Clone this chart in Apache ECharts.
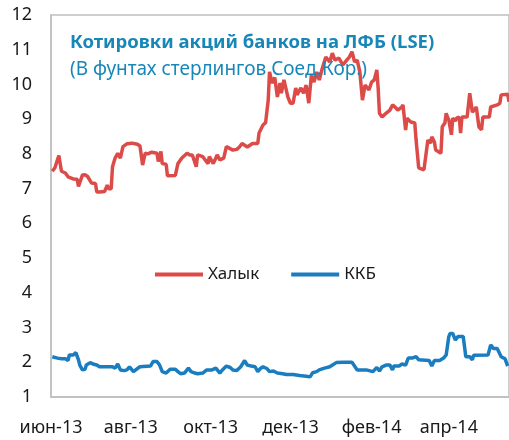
<!DOCTYPE html>
<html>
<head>
<meta charset="utf-8"/>
<title>Котировки акций банков на ЛФБ</title>
<script src="https://cdn.jsdelivr.net/npm/echarts@6/dist/echarts.min.js"></script>
<style>
  html, body { margin: 0; padding: 0; background: #fff; }
  #main { width: 509px; height: 440px; }
</style>
</head>
<body>
<div id="main"></div>
<script type="text/javascript">
// Халык, GBP
var halykDates = ['2013-06-02','2013-06-04','2013-06-07','2013-06-09','2013-06-12','2013-06-14','2013-06-18','2013-06-21','2013-06-22','2013-06-25',
  '2013-06-27','2013-06-29','2013-07-02','2013-07-05','2013-07-06','2013-07-08','2013-07-12','2013-07-14','2013-07-15','2013-07-17',
  '2013-07-18','2013-07-20','2013-07-22','2013-07-24','2013-07-26','2013-07-29','2013-08-02','2013-08-06','2013-08-08','2013-08-10',
  '2013-08-12','2013-08-14','2013-08-17','2013-08-21','2013-08-22','2013-08-24','2013-08-25','2013-08-28','2013-08-29','2013-09-04',
  '2013-09-06','2013-09-09','2013-09-13','2013-09-15','2013-09-17','2013-09-20','2013-09-21','2013-09-25','2013-09-29','2013-09-30',
  '2013-10-03','2013-10-06','2013-10-08','2013-10-11','2013-10-13','2013-10-18','2013-10-21','2013-10-23','2013-10-25','2013-10-29',
  '2013-11-02','2013-11-06','2013-11-07','2013-11-10','2013-11-12','2013-11-14','2013-11-15','2013-11-17','2013-11-19','2013-11-21',
  '2013-11-23','2013-11-24','2013-11-26','2013-11-29','2013-12-01','2013-12-03','2013-12-05','2013-12-06','2013-12-09','2013-12-11',
  '2013-12-13','2013-12-15','2013-12-17','2013-12-19','2013-12-21','2013-12-23','2013-12-25','2013-12-28','2013-12-31','2014-01-02',
  '2014-01-04','2014-01-07','2014-01-10','2014-01-13','2014-01-15','2014-01-17','2014-01-19','2014-01-21','2014-01-23','2014-01-25',
  '2014-01-27','2014-01-30','2014-02-01','2014-02-03','2014-02-05','2014-02-06','2014-02-07','2014-02-09','2014-02-12','2014-02-15',
  '2014-02-17','2014-02-19','2014-02-21','2014-02-24','2014-02-25','2014-02-27','2014-02-28','2014-03-03','2014-03-06','2014-03-07',
  '2014-03-09','2014-03-13','2014-03-15','2014-03-16','2014-03-18','2014-03-19','2014-03-21','2014-03-22','2014-03-26','2014-03-27',
  '2014-03-29','2014-03-30','2014-03-31','2014-04-01','2014-04-03','2014-04-04','2014-04-06','2014-04-07','2014-04-09','2014-04-10',
  '2014-04-11','2014-04-15','2014-04-17','2014-04-19','2014-04-22','2014-04-24','2014-04-26','2014-04-27','2014-05-02','2014-05-03',
  '2014-05-08','2014-05-10','2014-05-11','2014-05-16','2014-05-17'];
var halykValues = [7.5,7.6,7.95,7.5,7.45,7.34,7.28,7.27,7.06,7.39,
  7.4,7.35,7.16,7.15,6.9,6.9,6.92,7.1,7.0,7.0,
  7.63,7.88,8.02,7.88,8.21,8.29,8.31,8.28,8.23,7.68,
  8.02,8.0,8.05,8.02,7.78,8.07,7.72,7.7,7.37,7.38,
  7.72,7.88,8.02,7.97,7.97,7.63,7.97,7.92,7.72,7.92,
  7.72,7.97,7.83,7.88,8.21,8.11,8.13,8.2,8.3,8.2,
  8.3,8.3,8.6,8.83,8.9,9.55,10.36,10.04,10.2,9.64,
  10.04,9.75,10.13,9.64,9.46,9.46,9.9,9.7,9.9,9.75,
  9.98,9.46,10.27,10.07,10.36,10.13,10.42,10.79,10.65,10.9,
  10.7,10.76,10.56,10.7,10.79,10.94,10.65,10.7,10.36,9.55,
  9.98,9.84,10.07,10.13,10.42,9.9,9.17,9.06,9.17,9.26,
  9.41,9.35,9.26,9.35,9.41,8.69,9.03,8.92,8.89,8.4,
  7.6,7.54,8.11,8.4,8.31,8.49,8.34,8.11,8.02,8.78,
  8.89,9.17,9.06,8.98,8.55,9.03,8.95,9.03,9.06,8.6,
  9.06,9.06,9.75,9.2,9.35,8.78,8.69,9.06,9.06,9.35,
  9.41,9.46,9.7,9.72,9.5];

// ККБ, GBP
var kkbDates = ['2013-06-02','2013-06-06','2013-06-09','2013-06-12','2013-06-14','2013-06-15','2013-06-18','2013-06-20','2013-06-22','2013-06-23',
  '2013-06-25','2013-06-27','2013-06-28','2013-07-01','2013-07-03','2013-07-06','2013-07-08','2013-07-18','2013-07-20','2013-07-22',
  '2013-07-24','2013-07-27','2013-07-29','2013-07-31','2013-08-03','2013-08-06','2013-08-08','2013-08-16','2013-08-18','2013-08-21',
  '2013-08-23','2013-08-25','2013-08-28','2013-08-31','2013-09-04','2013-09-06','2013-09-08','2013-09-11','2013-09-14','2013-09-16',
  '2013-09-19','2013-09-21','2013-09-25','2013-09-28','2013-10-02','2013-10-05','2013-10-08','2013-10-10','2013-10-13','2013-10-16',
  '2013-10-18','2013-10-21','2013-10-24','2013-10-27','2013-10-29','2013-11-01','2013-11-04','2013-11-06','2013-11-08','2013-11-10',
  '2013-11-13','2013-11-15','2013-11-18','2013-11-21','2013-11-25','2013-11-28','2013-12-03','2013-12-08','2013-12-13','2013-12-16',
  '2013-12-18','2013-12-21','2013-12-23','2013-12-27','2013-12-31','2014-01-05','2014-01-10','2014-01-17','2014-01-21','2014-01-28',
  '2014-02-02','2014-02-05','2014-02-07','2014-02-09','2014-02-12','2014-02-15','2014-02-17','2014-02-18','2014-02-22','2014-02-24',
  '2014-02-27','2014-03-01','2014-03-04','2014-03-07','2014-03-09','2014-03-17','2014-03-19','2014-03-21','2014-03-25','2014-03-28',
  '2014-03-30','2014-04-01','2014-04-02','2014-04-04','2014-04-06','2014-04-08','2014-04-12','2014-04-14','2014-04-17','2014-04-19',
  '2014-04-20','2014-05-01','2014-05-03','2014-05-05','2014-05-08','2014-05-11','2014-05-14','2014-05-16'];
var kkbValues = [2.16,2.12,2.1,2.1,2.05,2.21,2.21,2.28,2.07,1.92,
  1.78,1.8,1.92,1.99,1.95,1.92,1.87,1.87,1.83,1.95,
  1.78,1.76,1.78,1.87,1.73,1.82,1.87,1.89,2.02,2.02,
  1.92,1.73,1.69,1.8,1.8,1.73,1.67,1.69,1.83,1.73,
  1.69,1.67,1.69,1.78,1.78,1.83,1.69,1.78,1.89,1.85,
  1.78,1.76,1.87,2.05,1.92,1.89,1.87,1.73,1.82,1.87,
  1.82,1.73,1.75,1.69,1.67,1.65,1.65,1.62,1.6,1.58,
  1.7,1.73,1.78,1.83,1.87,1.99,2.0,2.0,1.78,1.78,
  1.73,1.85,1.75,1.87,1.92,1.92,1.78,1.89,1.89,1.95,
  1.92,2.12,2.12,2.16,2.07,2.05,1.89,2.05,2.05,2.12,
  2.21,2.74,2.83,2.83,2.64,2.74,2.74,2.16,2.16,2.07,
  2.2,2.21,2.5,2.4,2.4,2.16,2.1,1.89];

var monthNames = ['янв','фев','мар','апр','май','июн','июл','авг','сен','окт','ноя','дек'];
var xLabelDates = ['2013-06-01','2013-08-01','2013-10-01','2013-12-01','2014-02-01','2014-04-01'];
var xStart = '2013-06-01';
var xEnd = '2014-05-17';
var titleText = 'Котировки акций банков на ЛФБ (LSE)';
var subtitleText = '(В фунтах стерлингов Соед.Кор.)';

function ts(d) { return Date.UTC(+d.slice(0, 4), +d.slice(5, 7) - 1, +d.slice(8, 10)); }
function pairs(dates, values) {
    return dates.map(function (d, i) { return [ts(d), values[i]]; });
}

var chart = echarts.init(document.getElementById('main'));
chart.setOption({
    animation: false,
    textStyle: { fontFamily: 'Noto Sans' },
    title: {
        text: titleText,
        subtext: subtitleText,
        left: 65,
        top: 28,
        itemGap: 8,
        textStyle: { color: '#1787b8', fontSize: 18.5, fontWeight: 'bold', fontFamily: 'Noto Sans' },
        subtextStyle: { color: '#1787b8', fontSize: 19, fontFamily: 'Noto Sans' }
    },
    legend: {
        left: 150,
        top: 261,
        itemWidth: 48,
        itemHeight: 4,
        itemGap: 32,
        icon: 'rect',
        textStyle: { fontSize: 17, color: '#1a1a1a' },
        data: ['Халык', 'ККБ']
    },
    grid: {
        left: 51, top: 15, right: -2, bottom: 43,
        show: true, borderColor: '#bfbfbf', borderWidth: 1.5
    },
    xAxis: {
        type: 'value',
        min: ts(xStart),
        max: ts(xEnd),
        axisLine: { lineStyle: { color: '#bfbfbf', width: 1.5 } },
        axisTick: { show: false },
        splitLine: { show: false },
        axisLabel: {
            customValues: xLabelDates.map(ts),
            color: '#1a1a1a',
            fontSize: 18,
            margin: 22,
            formatter: function (v) {
                var d = new Date(v);
                return monthNames[d.getUTCMonth()] + '-' + String(d.getUTCFullYear()).slice(2);
            }
        }
    },
    yAxis: {
        type: 'value',
        min: 1,
        max: 12,
        interval: 1,
        axisLine: { show: true, lineStyle: { color: '#bfbfbf', width: 1.5 } },
        axisTick: { show: false },
        splitLine: { show: false },
        axisLabel: { color: '#1a1a1a', fontSize: 18, margin: 19 }
    },
    series: [
        {
            name: 'Халык',
            type: 'line',
            data: pairs(halykDates, halykValues),
            showSymbol: false,
            lineStyle: { color: '#dc4b47', width: 3.5 },
            itemStyle: { color: '#dc4b47' }
        },
        {
            name: 'ККБ',
            type: 'line',
            data: pairs(kkbDates, kkbValues),
            showSymbol: false,
            lineStyle: { color: '#1a7dc0', width: 3.5 },
            itemStyle: { color: '#1a7dc0' }
        }
    ]
});
</script>
</body>
</html>
